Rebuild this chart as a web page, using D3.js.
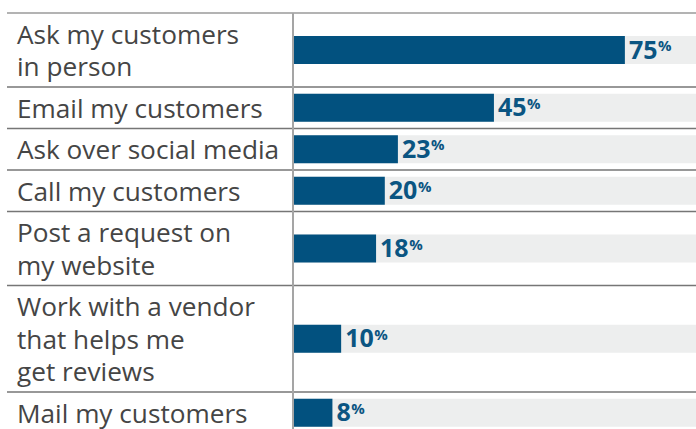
<!DOCTYPE html>
<html>
<head>
<meta charset="utf-8">
<script src="https://cdn.jsdelivr.net/npm/d3@7"></script>
<style>
  html, body { margin: 0; padding: 0; background: #fff; }
  svg { display: block; }
</style>
</head>
<body>
<svg id="chart" width="696" height="429"></svg>
<script>
// Survey answers: how businesses ask their customers for reviews
const categories = [
  ["Ask my customers", "in person"],
  ["Email my customers"],
  ["Ask over social media"],
  ["Call my customers"],
  ["Post a request on", "my website"],
  ["Work with a vendor", "that helps me", "get reviews"],
  ["Mail my customers"]
];
const values = [75, 45, 23, 20, 18, 10, 8];

const W = 696, H = 429;
const topY = 13;
const lineLeft = 7;
const plotLeft = 293;
const lineH = 32.5;
const rowPad = 9;
const barH = 28;

const svg = d3.select("#chart");

// Row boundaries follow the number of label lines in each row
const rowTops = [];
let acc = topY;
categories.forEach(lines => { rowTops.push(acc); acc += lines.length * lineH + rowPad; });
const rowBottoms = categories.map((lines, i) => rowTops[i] + lines.length * lineH + rowPad);

const x = d3.scaleLinear().domain([0, 100]).range([297.5, 734]);

const rows = svg.selectAll("g.row")
  .data(categories.map((lines, i) => ({ lines, value: values[i], y0: rowTops[i], y1: rowBottoms[i] })))
  .join("g")
  .attr("class", "row");

// Track behind each bar
rows.append("rect")
  .attr("x", plotLeft)
  .attr("y", d => (d.y0 + d.y1) / 2 - barH / 2)
  .attr("width", W - plotLeft)
  .attr("height", barH)
  .attr("fill", "#edeeee");

// Value bar
rows.append("rect")
  .attr("x", plotLeft)
  .attr("y", d => (d.y0 + d.y1) / 2 - barH / 2)
  .attr("width", d => x(d.value) - plotLeft)
  .attr("height", barH)
  .attr("fill", "#02517f");

// Value label with a raised, smaller percent sign
const vl = rows.append("text")
  .attr("x", d => x(d.value) + 4)
  .attr("y", d => (d.y0 + d.y1) / 2 + 8.5)
  .attr("font-family", "'Open Sans', sans-serif")
  .attr("font-weight", 700)
  .attr("fill", "#0b5582");
vl.append("tspan")
  .attr("font-size", 25)
  .text(d => d.value);
vl.append("tspan")
  .attr("font-size", 15)
  .attr("dy", -7.5)
  .attr("dx", 0.5)
  .text("%");

// Category labels
rows.append("text")
  .attr("font-family", "'Open Sans', sans-serif")
  .attr("font-size", 26.2)
  .attr("fill", "#454545")
  .selectAll("tspan")
  .data(d => d.lines.map((t, j) => ({ t, y: d.y0 + 30.5 + j * lineH })))
  .join("tspan")
  .attr("x", 17)
  .attr("y", d => d.y)
  .text(d => d.t);

// Row separators
svg.selectAll("line.sep")
  .data([topY, ...rowBottoms])
  .join("line")
  .attr("class", "sep")
  .attr("x1", lineLeft)
  .attr("x2", W)
  .attr("y1", d => d)
  .attr("y2", d => d)
  .attr("stroke", (d, i) => i === 0 ? "#9a9a9a" : "#767676")
  .attr("stroke-width", 1.6);

// Divider between labels and bars
svg.append("line")
  .attr("x1", plotLeft)
  .attr("x2", plotLeft)
  .attr("y1", topY)
  .attr("y2", H)
  .attr("stroke", "#a5a5a5")
  .attr("stroke-width", 2);
</script>
</body>
</html>
